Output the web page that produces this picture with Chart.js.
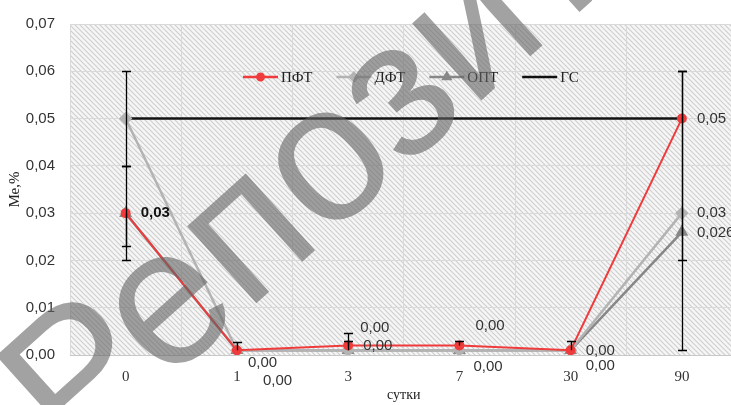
<!DOCTYPE html>
<html><head><meta charset="utf-8">
<script src="https://cdn.jsdelivr.net/npm/chart.js@4.4.1/dist/chart.umd.min.js"></script>
<style>html,body{margin:0;padding:0;background:#fff;overflow:hidden;width:731px;height:405px}
#wrap{position:absolute;left:0;top:0;width:745px;height:405px}</style>
</head><body><div id="wrap"><canvas id="c" width="745" height="405"></canvas></div>
<script>
// ---- data ----
const categories = ['0', '1', '3', '7', '30', '90'];
const seriesNames = ['ПФТ', 'ДФТ', 'ОПТ', 'ГС'];
const pft = [0.03, 0.001, 0.002, 0.002, 0.001, 0.05];
const dft = [0.05, 0.001, 0.001, 0.001, 0.001, 0.03];
const opt = [0.03, 0.001, 0.001, 0.001, 0.001, 0.026];
const gs  = [0.05, 0.05, 0.05, 0.05, 0.05, 0.05];
const pftErrPlus  = [0.01, 0.0017, 0.0027, 0.001, 0.002, 0.01];
const pftErrMinus = [0.01, 0, 0, 0, 0, 0.049];
const dftErrPlus  = [0.01, 0, 0.0019, 0, 0, 0.03];
const dftErrMinus = [0.01, 0, 0, 0, 0, 0.01];
const optErrPlus  = [0, 0, 0, 0, 0, 0];
const optErrMinus = [0.007, 0, 0, 0, 0, 0];
const yTickLabels = ['0,00', '0,01', '0,02', '0,03', '0,04', '0,05', '0,06', '0,07'];
const xTitle = 'сутки';
const yTitle = 'Ме,%';
const watermark = 'Репозиторий';

// ---- label placement (style, not data) ----
const labelPlacement = [
  {s:0, i:0, dx:15, dy:0, dec:2, bold:true},
  {s:0, i:1, dx:11, dy:13, dec:2},
  {s:2, i:1, dx:26, dy:31, dec:2},
  {s:0, i:2, dx:12, dy:-18, dec:2},
  {s:2, i:2, dx:15, dy:-4, dec:2},
  {s:0, i:3, dx:16, dy:-20, dec:2},
  {s:2, i:3, dx:14, dy:17, dec:2},
  {s:0, i:4, dx:15, dy:1, dec:2},
  {s:2, i:4, dx:15, dy:16, dec:2},
  {s:0, i:5, dx:15, dy:0, dec:2},
  {s:1, i:5, dx:15, dy:0, dec:2},
  {s:2, i:5, dx:15, dy:1, dec:3}
];
const errSets = [[pftErrPlus, pftErrMinus], [dftErrPlus, dftErrMinus], [optErrPlus, optErrMinus]];
const SANS = "'Liberation Sans Narrow','Liberation Sans',sans-serif";
const SERIF = "'Liberation Serif','Times New Roman',serif";

const fmt = (v, d) => v.toFixed(d).replace('.', ',');

const bgPlugin = {
  id: 'bg',
  beforeDraw(chart) {
    const {ctx, chartArea: a} = chart;
    ctx.save();
    ctx.fillStyle = '#fff';
    ctx.fillRect(0, 0, chart.width, chart.height);
    const p = document.createElement('canvas'); p.width = 5; p.height = 5;
    const pc = p.getContext('2d');
    pc.fillStyle = '#f6f6f6'; pc.fillRect(0, 0, 5, 5);
    pc.strokeStyle = '#cfcfcf'; pc.lineWidth = 1.2;
    pc.beginPath();
    pc.moveTo(-1, -1); pc.lineTo(6, 6);
    pc.moveTo(-1, 4); pc.lineTo(1, 6);
    pc.moveTo(4, -1); pc.lineTo(6, 1);
    pc.stroke();
    ctx.fillStyle = ctx.createPattern(p, 'repeat');
    ctx.fillRect(a.left, a.top, a.right - a.left, a.bottom - a.top);
    ctx.restore();
  }
};

const errPlugin = {
  id: 'err',
  afterDatasetsDraw(chart) {
    const {ctx} = chart;
    const xs = chart.scales.x, ys = chart.scales.y;
    ctx.save();
    ctx.strokeStyle = '#000'; ctx.lineWidth = 1.3;
    errSets.forEach((pair, s) => {
      const vals = chart.data.datasets[s].data;
      vals.forEach((v, i) => {
        const up = pair[0][i], dn = pair[1][i];
        if (!up && !dn) return;
        const x = Math.round(xs.getPixelForValue(i)) + 0.5;
        const y0 = ys.getPixelForValue(v);
        ctx.beginPath();
        if (up) {
          const y1 = Math.round(ys.getPixelForValue(v + up)) + 0.5;
          ctx.moveTo(x, y0); ctx.lineTo(x, y1);
          ctx.moveTo(x - 4.5, y1); ctx.lineTo(x + 4.5, y1);
        }
        if (dn) {
          const y2 = Math.round(ys.getPixelForValue(v - dn)) + 0.5;
          ctx.moveTo(x, y0); ctx.lineTo(x, y2);
          ctx.moveTo(x - 4.5, y2); ctx.lineTo(x + 4.5, y2);
        }
        ctx.stroke();
      });
    });
    ctx.restore();
  }
};

const overlayPlugin = {
  id: 'overlay',
  afterDraw(chart) {
    const {ctx} = chart;
    const xs = chart.scales.x, ys = chart.scales.y;
    ctx.save();
    // data labels
    ctx.textBaseline = 'middle'; ctx.textAlign = 'left';
    labelPlacement.forEach(L => {
      const v = chart.data.datasets[L.s].data[L.i];
      const x = xs.getPixelForValue(L.i) + L.dx;
      const y = ys.getPixelForValue(v) + L.dy;
      ctx.font = (L.bold ? 'bold ' : '') + '15px ' + SANS;
      ctx.fillStyle = L.bold ? '#111' : '#333';
      ctx.fillText(fmt(v, L.dec), x, y);
    });
    // legend
    let lx = 243; const ly = 77;
    ctx.font = '15px ' + SERIF;
    chart.data.datasets.forEach((ds, k) => {
      ctx.strokeStyle = ds.borderColor; ctx.lineWidth = 2.5;
      ctx.beginPath(); ctx.moveTo(lx, ly); ctx.lineTo(lx + 35, ly); ctx.stroke();
      if (ds.pointRadius > 0) {
        Chart.helpers.drawPoint(ctx, {pointStyle: ds.pointStyle, radius: ds.pointRadius * 0.8, borderWidth: 1}, lx + 17.5, ly);
        ctx.fillStyle = ds.pointBackgroundColor;
        ctx.fill();
      }
      ctx.fillStyle = '#222';
      ctx.fillText(ds.label, lx + 38, ly + 1);
      lx += 38 + ctx.measureText(ds.label).width + 24;
    });
    // watermark
    const S = 196, ang = -42 * Math.PI / 180;
    ctx.font = S + 'px ' + "'Liberation Sans',Arial,sans-serif";
    const wP = ctx.measureText('Р').width, wE = ctx.measureText('е').width;
    const cx = 178, cy = 305;
    const lxo = wP + wE / 2, lyo = -0.26 * S;
    const ox = cx - (lxo * Math.cos(ang) - lyo * Math.sin(ang));
    const oy = cy - (lxo * Math.sin(ang) + lyo * Math.cos(ang));
    ctx.translate(ox, oy); ctx.rotate(ang);
    ctx.textBaseline = 'alphabetic';
    ctx.fillStyle = 'rgba(100,100,100,0.6)';
    ctx.fillText(watermark, 0, 0);
    ctx.restore();
  }
};

new Chart(document.getElementById('c'), {
  type: 'line',
  data: {
    labels: categories,
    datasets: [
      {label: seriesNames[0], data: pft, borderColor: '#ef3b3b', backgroundColor: '#ef3b3b', pointBackgroundColor: '#ef3b3b', pointBorderColor: '#ef3b3b', borderWidth: 2, pointStyle: 'circle', pointRadius: 4},
      {label: seriesNames[1], data: dft, borderColor: '#b3b3b3', backgroundColor: '#b3b3b3', pointBackgroundColor: '#b3b3b3', pointBorderColor: '#b3b3b3', borderWidth: 2.5, pointStyle: 'rectRot', pointRadius: 5},
      {label: seriesNames[2], data: opt, borderColor: '#878787', backgroundColor: '#878787', pointBackgroundColor: '#878787', pointBorderColor: '#878787', borderWidth: 2.5, pointStyle: 'triangle', pointRadius: 5},
      {label: seriesNames[3], data: gs, borderColor: '#111', backgroundColor: '#111', pointBackgroundColor: '#111', borderWidth: 2.5, pointRadius: 0}
    ]
  },
  options: {
    responsive: false,
    animation: false,
    layout: {padding: {top: 12, right: 7.5, left: 0, bottom: 0}},
    elements: {line: {tension: 0}},
    plugins: {legend: {display: false}, tooltip: {enabled: false}},
    scales: {
      x: {
        offset: true,
        grid: {color: '#d9d9d9', offset: true, drawTicks: false},
        border: {display: false},
        ticks: {padding: 13, color: '#333', font: {family: SERIF, size: 15}},
        title: {display: true, text: xTitle, color: '#222', font: {family: SERIF, size: 14}, padding: {top: 0, bottom: 1}},
        afterFit: s => { s.height = 50; }
      },
      y: {
        min: 0, max: 0.07,
        grid: {color: (c) => c.tick && c.tick.value === 0 ? '#c8c8c8' : '#d9d9d9', drawTicks: false},
        border: {display: false},
        ticks: {stepSize: 0.01, padding: 15, color: '#333', font: {family: SANS, size: 15},
          callback: (v, idx) => yTickLabels[idx]},
        title: {display: true, text: yTitle, color: '#222', font: {family: SERIF, size: 15}, padding: {top: 6, bottom: 0}},
        afterFit: s => { s.width = 70; }
      }
    }
  },
  plugins: [bgPlugin, errPlugin, overlayPlugin]
});
</script></body></html>
